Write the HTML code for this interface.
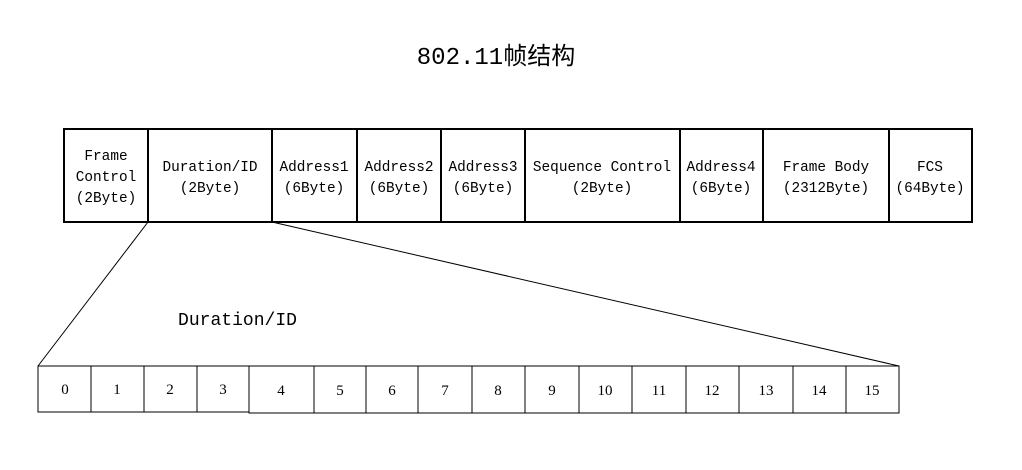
<!DOCTYPE html>
<html><head><meta charset="utf-8"><style>html,body{margin:0;padding:0;background:#fff;width:1022px;height:470px;overflow:hidden}</style></head>
<body>
<svg width="1022" height="470" xmlns="http://www.w3.org/2000/svg" font-family="'Liberation Mono','Noto Sans CJK SC',monospace" fill="#000">
<text x="496" y="64" font-size="24" text-anchor="middle">802.11帧结构</text>
<g fill="none" stroke="#000" stroke-width="2">
<rect x="64" y="129" width="908" height="93"/>
<line x1="148" y1="129" x2="148" y2="222"/>
<line x1="272" y1="129" x2="272" y2="222"/>
<line x1="357" y1="129" x2="357" y2="222"/>
<line x1="441" y1="129" x2="441" y2="222"/>
<line x1="525" y1="129" x2="525" y2="222"/>
<line x1="680" y1="129" x2="680" y2="222"/>
<line x1="763" y1="129" x2="763" y2="222"/>
<line x1="889" y1="129" x2="889" y2="222"/>
</g>
<g stroke="#000" stroke-width="1">
<line x1="148" y1="222" x2="38" y2="366"/>
<line x1="272" y1="222" x2="899" y2="366"/>
</g>
<g font-size="14.4" text-anchor="middle">
<text x="106" y="160">Frame</text><text x="106" y="181">Control</text><text x="106" y="202">(2Byte)</text>
<text x="210" y="171">Duration/ID</text><text x="210" y="192">(2Byte)</text>
<text x="314" y="171">Address1</text><text x="314" y="192">(6Byte)</text>
<text x="399" y="171">Address2</text><text x="399" y="192">(6Byte)</text>
<text x="483" y="171">Address3</text><text x="483" y="192">(6Byte)</text>
<text x="602" y="171">Sequence Control</text><text x="602" y="192">(2Byte)</text>
<text x="721" y="171">Address4</text><text x="721" y="192">(6Byte)</text>
<text x="826" y="171">Frame Body</text><text x="826" y="192">(2312Byte)</text>
<text x="930" y="171">FCS</text><text x="930" y="192">(64Byte)</text>
</g>
<text x="178" y="325" font-size="18" textLength="119" lengthAdjust="spacingAndGlyphs">Duration/ID</text>
<g fill="none" stroke="#000" stroke-width="1">
<rect x="38" y="366" width="211" height="46"/>
<line x1="91" y1="366" x2="91" y2="412"/>
<line x1="144" y1="366" x2="144" y2="412"/>
<line x1="197" y1="366" x2="197" y2="412"/>
<rect x="249" y="366" width="650" height="47"/>
<line x1="314" y1="366" x2="314" y2="413"/>
<line x1="366" y1="366" x2="366" y2="413"/>
<line x1="418" y1="366" x2="418" y2="413"/>
<line x1="472" y1="366" x2="472" y2="413"/>
<line x1="525" y1="366" x2="525" y2="413"/>
<line x1="579" y1="366" x2="579" y2="413"/>
<line x1="632" y1="366" x2="632" y2="413"/>
<line x1="686" y1="366" x2="686" y2="413"/>
<line x1="739" y1="366" x2="739" y2="413"/>
<line x1="793" y1="366" x2="793" y2="413"/>
<line x1="846" y1="366" x2="846" y2="413"/>
</g>
<g font-family="'Liberation Serif',serif" font-size="15" text-anchor="middle">
<text x="65" y="394">0</text><text x="117" y="394">1</text><text x="170" y="394">2</text><text x="223" y="394">3</text>
<text x="281" y="395">4</text><text x="340" y="395">5</text><text x="392" y="395">6</text><text x="445" y="395">7</text>
<text x="498" y="395">8</text><text x="552" y="395">9</text><text x="605" y="395">10</text><text x="659" y="395">11</text>
<text x="712" y="395">12</text><text x="766" y="395">13</text><text x="819" y="395">14</text><text x="872" y="395">15</text>
</g>
</svg>
</body></html>
